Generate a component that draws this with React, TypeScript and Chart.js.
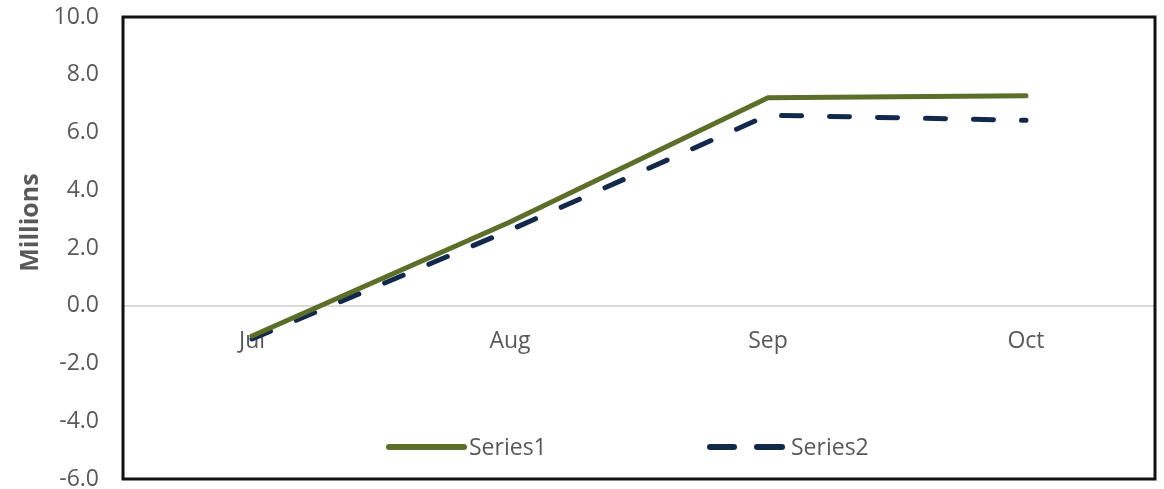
import React, { useEffect, useRef } from "react";
import Chart from "chart.js/auto";

const categories = ["Jul", "Aug", "Sep", "Oct"];
const series1 = [-1.05, 2.9, 7.2, 7.27];
const series2 = [-1.15, 2.62, 6.6, 6.42];
const seriesNames = ["Series1", "Series2"];
const yTitle = "Millions";

const GREEN = "#5b6f2a";
const NAVY = "#13294b";
const TEXT = "#595959";
const FONT = "'Open Sans', 'Liberation Sans', sans-serif";

const framePlugin = {
  id: "frameAndLegend",
  afterDraw(chart: any) {
    const { ctx, chartArea } = chart;
    const { left, right, top, bottom } = chartArea;
    ctx.save();
    // frame
    ctx.strokeStyle = "#111111";
    ctx.lineWidth = 3;
    ctx.strokeRect(left, top, right - left, bottom - top);

    // axis title
    ctx.fillStyle = TEXT;
    ctx.font = `bold 25px ${FONT}`;
    ctx.textAlign = "center";
    ctx.textBaseline = "middle";
    ctx.translate(31, top + (bottom - top) * 0.445);
    ctx.rotate(-Math.PI / 2);
    ctx.fillText(yTitle, 0, 0);
    ctx.restore();

    // legend
    ctx.save();
    const cx = (left + right) / 2;
    const ly = bottom - 32;
    ctx.lineCap = "round";
    ctx.lineWidth = 6;
    ctx.font = `23px ${FONT}`;
    ctx.fillStyle = TEXT;
    ctx.textBaseline = "middle";
    ctx.textAlign = "left";
    // Series1
    const s1x = cx - 250;
    ctx.strokeStyle = GREEN;
    ctx.beginPath();
    ctx.moveTo(s1x, ly);
    ctx.lineTo(s1x + 75, ly);
    ctx.stroke();
    ctx.fillText(seriesNames[0], s1x + 80, ly + 1);
    // Series2
    const s2x = cx + 71;
    ctx.strokeStyle = NAVY;
    ctx.beginPath();
    ctx.moveTo(s2x, ly);
    ctx.lineTo(s2x + 24, ly);
    ctx.moveTo(s2x + 47, ly);
    ctx.lineTo(s2x + 72, ly);
    ctx.stroke();
    ctx.fillText(seriesNames[1], s2x + 81, ly + 1);
    ctx.restore();
  },
};

export default function App() {
  const ref = useRef<HTMLCanvasElement | null>(null);
  useEffect(() => {
    document.body.style.margin = "0";
    if (!ref.current) return;
    const chart = new Chart(ref.current, {
      type: "line",
      data: {
        labels: categories,
        datasets: [
          {
            label: seriesNames[0],
            data: series1,
            borderColor: GREEN,
            backgroundColor: GREEN,
            borderWidth: 5,
            pointRadius: 0,
            borderCapStyle: "round",
            borderJoinStyle: "miter",
            tension: 0,
          },
          {
            label: seriesNames[1],
            data: series2,
            borderColor: NAVY,
            backgroundColor: NAVY,
            borderWidth: 5,
            pointRadius: 0,
            borderDash: [20, 28],
            borderCapStyle: "round",
            tension: 0,
          },
        ],
      },
      options: {
        animation: false,
        responsive: true,
        maintainAspectRatio: false,
        layout: { padding: { top: 17, right: 9, bottom: 10, left: 0 } },
        plugins: { legend: { display: false }, tooltip: { enabled: false } },
        scales: {
          x: {
            position: { y: 0 },
            offset: true,
            afterFit: (scale: any) => {
              scale.paddingTop = 0;
              scale.paddingBottom = 0;
              scale.paddingLeft = 0;
              scale.paddingRight = 0;
            },
            grid: { display: false, drawTicks: false },
            border: { display: false },
            ticks: {
              color: TEXT,
              font: { family: FONT, size: 23 },
              padding: 22,
              maxRotation: 0,
            },
          },
          y: {
            min: -6,
            max: 10,
            afterFit: (scale: any) => {
              scale.width = 123;
              scale.paddingTop = 0;
              scale.paddingBottom = 0;
            },
            grid: {
              drawTicks: false,
              lineWidth: 2,
              color: (c: any) => (c.tick && c.tick.value === 0 ? "#d9d9d9" : "rgba(0,0,0,0)"),
            },
            border: { display: false },
            ticks: {
              stepSize: 2,
              color: TEXT,
              font: { family: FONT, size: 23 },
              padding: 24,
              callback: (v: any) => Number(v).toFixed(1),
            },
          },
        },
      },
      plugins: [framePlugin],
    });
    return () => chart.destroy();
  }, []);
  return (
    <div style={{ position: "fixed", left: 0, top: 0, width: 1164, height: 489 }}>
      <canvas ref={ref} />
    </div>
  );
}
